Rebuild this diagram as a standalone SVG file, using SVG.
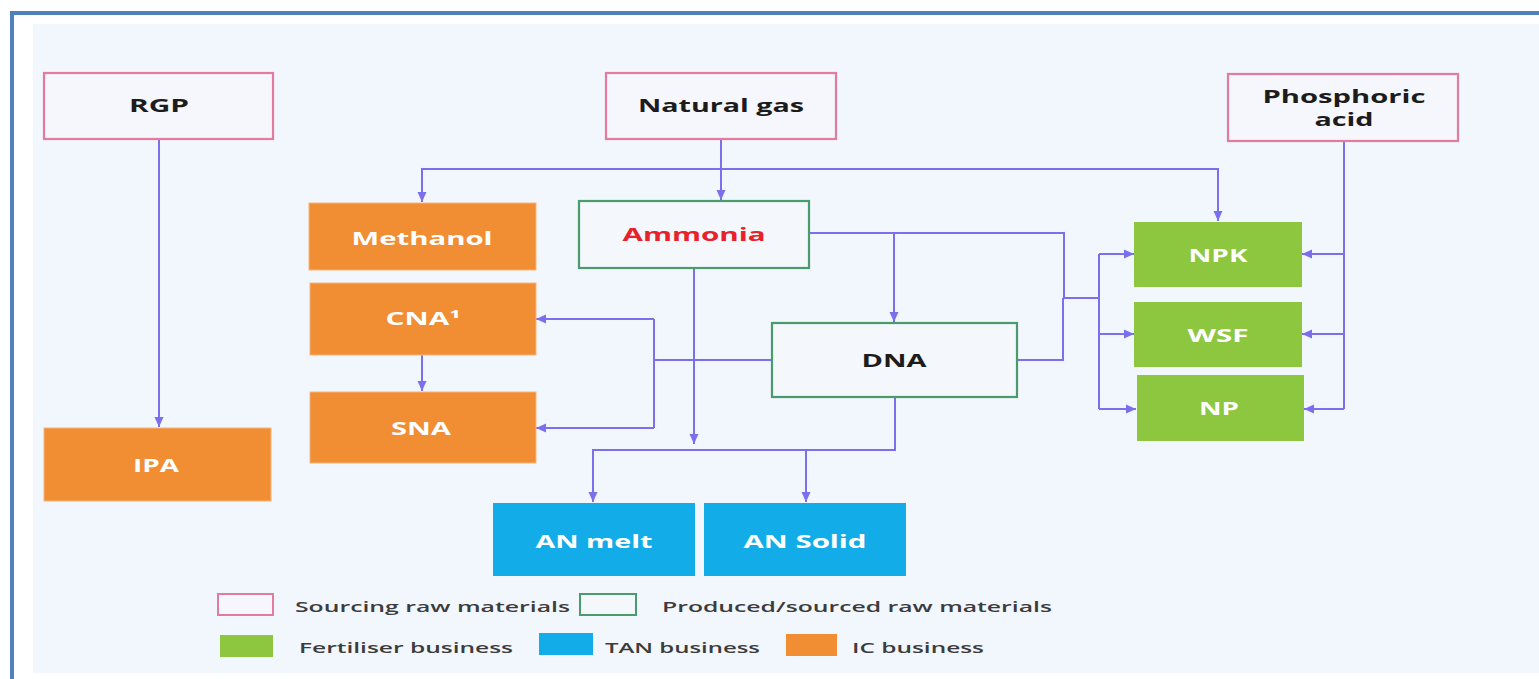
<svg xmlns="http://www.w3.org/2000/svg" width="1539" height="679" viewBox="0 0 1539 679">
<defs>
<marker id="arr" viewBox="0 0 10 10" refX="10" refY="5" markerWidth="10" markerHeight="10" markerUnits="userSpaceOnUse" orient="auto">
<path d="M0,0.5 L10,5 L0,9.5 z" fill="#7a70ee"/>
</marker>
<style>
.src{fill:#f6f6fd;stroke:#e27b9c;stroke-width:2.2}
.prod{fill:#f4f7fb;stroke:#4a9c6d;stroke-width:2.2}
.ic{fill:#f18d33;stroke:#f7b47a;stroke-width:1}
.fert{fill:#8cc73f}
.tan{fill:#12ade8}
.lbl{font-family:"Open Sans","Liberation Sans",sans-serif;font-weight:700;font-size:18px;text-anchor:middle}
.dark{fill:#1c1c1c}
.white{fill:#ffffff}
.red{fill:#e8222b}
.leg{font-family:"Open Sans","Liberation Sans",sans-serif;font-weight:600;font-size:14px;fill:#3c3c3c}
.c{fill:none;stroke:#7a70ee;stroke-width:2}
.ca{fill:none;stroke:#7a70ee;stroke-width:2;marker-end:url(#arr)}
</style>
</defs>
<rect x="0" y="0" width="1539" height="679" fill="#ffffff"/>
<path d="M12,679 V13 H1539" fill="none" stroke="#4f81bd" stroke-width="4"/>
<rect x="33" y="24" width="1506" height="649" fill="#f2f6fd"/>

<g id="connectors">
<path class="ca" d="M159,139 V427"/>
<path class="ca" d="M721,139 V200"/>
<path class="ca" d="M721,169 H422 V202"/>
<path class="ca" d="M721,169 H1218 V221"/>
<path class="ca" d="M809,233 H894 V322"/>
<path class="c" d="M894,233 H1064 V298 H1099"/>
<path class="c" d="M1017,360 H1063 V298"/>
<path class="c" d="M1099,254 V409"/>
<path class="ca" d="M1099,254 H1134"/>
<path class="ca" d="M1099,334 H1134"/>
<path class="ca" d="M1099,409 H1136"/>
<path class="c" d="M1344,141 V409"/>
<path class="ca" d="M1344,254 H1302"/>
<path class="ca" d="M1344,334 H1302"/>
<path class="ca" d="M1344,409 H1304"/>
<path class="c" d="M772,360 H654"/>
<path class="c" d="M654,319 V428"/>
<path class="ca" d="M654,319 H536"/>
<path class="ca" d="M654,428 H536"/>
<path class="ca" d="M422,355 V391"/>
<path class="ca" d="M694,268 V444"/>
<path class="ca" d="M895,397 V450 H593 V502"/>
<path class="ca" d="M806,450 V502"/>
</g>

<g id="RGP">
<rect class="src" x="44" y="73" width="229" height="66"/>
<text class="lbl dark" x="159" y="112" textLength="60" lengthAdjust="spacingAndGlyphs">RGP</text>
</g>
<g id="NaturalGas">
<rect class="src" x="606" y="73" width="230" height="66"/>
<text class="lbl dark" x="721" y="112" textLength="166" lengthAdjust="spacingAndGlyphs">Natural gas</text>
</g>
<g id="PhosphoricAcid">
<rect class="src" x="1228" y="74" width="230" height="67"/>
<text class="lbl dark" x="1344" y="103" textLength="163" lengthAdjust="spacingAndGlyphs">Phosphoric</text>
<text class="lbl dark" x="1344" y="126" textLength="59" lengthAdjust="spacingAndGlyphs">acid</text>
</g>
<g id="Methanol">
<rect class="ic" x="309" y="203" width="227" height="67"/>
<text class="lbl white" x="422" y="245" textLength="141" lengthAdjust="spacingAndGlyphs">Methanol</text>
</g>
<g id="CNA">
<rect class="ic" x="310" y="283" width="226" height="72"/>
<text class="lbl white" x="423" y="325" textLength="75" lengthAdjust="spacingAndGlyphs">CNA¹</text>
</g>
<g id="SNA">
<rect class="ic" x="310" y="392" width="226" height="71"/>
<text class="lbl white" x="421" y="435" textLength="60" lengthAdjust="spacingAndGlyphs">SNA</text>
</g>
<g id="IPA">
<rect class="ic" x="44" y="428" width="227" height="73"/>
<text class="lbl white" x="156" y="472" textLength="46" lengthAdjust="spacingAndGlyphs">IPA</text>
</g>
<g id="Ammonia">
<rect class="prod" x="579" y="201" width="230" height="67"/>
<text class="lbl red" x="694" y="241" textLength="143" lengthAdjust="spacingAndGlyphs">Ammonia</text>
</g>
<g id="DNA">
<rect class="prod" x="772" y="323" width="245" height="74"/>
<text class="lbl dark" x="894" y="367" textLength="65" lengthAdjust="spacingAndGlyphs">DNA</text>
</g>
<g id="NPK">
<rect class="fert" x="1134" y="222" width="168" height="65"/>
<text class="lbl white" x="1218" y="262" textLength="59" lengthAdjust="spacingAndGlyphs">NPK</text>
</g>
<g id="WSF">
<rect class="fert" x="1134" y="302" width="168" height="65"/>
<text class="lbl white" x="1218" y="342" textLength="61" lengthAdjust="spacingAndGlyphs">WSF</text>
</g>
<g id="NP">
<rect class="fert" x="1137" y="375" width="167" height="66"/>
<text class="lbl white" x="1219" y="415" textLength="40" lengthAdjust="spacingAndGlyphs">NP</text>
</g>
<g id="ANmelt">
<rect class="tan" x="493" y="503" width="202" height="73"/>
<text class="lbl white" x="594" y="548" textLength="117" lengthAdjust="spacingAndGlyphs">AN melt</text>
</g>
<g id="ANsolid">
<rect class="tan" x="704" y="503" width="202" height="73"/>
<text class="lbl white" x="805" y="548" textLength="123" lengthAdjust="spacingAndGlyphs">AN Solid</text>
</g>

<g id="legend">
<rect x="218" y="594" width="55" height="21" fill="#f6f6fd" stroke="#e27b9c" stroke-width="2"/>
<text class="leg" x="295" y="612" textLength="275" lengthAdjust="spacingAndGlyphs">Sourcing raw materials</text>
<rect x="580" y="594" width="56" height="21" fill="#f4f7fb" stroke="#4a9c6d" stroke-width="2"/>
<text class="leg" x="662" y="612" textLength="390" lengthAdjust="spacingAndGlyphs">Produced/sourced raw materials</text>
<rect x="220" y="635" width="53" height="22" fill="#8cc73f"/>
<text class="leg" x="299" y="653" textLength="214" lengthAdjust="spacingAndGlyphs">Fertiliser business</text>
<rect x="539" y="633" width="54" height="22" fill="#12ade8"/>
<text class="leg" x="605" y="653" textLength="155" lengthAdjust="spacingAndGlyphs">TAN business</text>
<rect x="786" y="634" width="51" height="22" fill="#f18d33"/>
<text class="leg" x="852" y="653" textLength="132" lengthAdjust="spacingAndGlyphs">IC business</text>
</g>
</svg>
